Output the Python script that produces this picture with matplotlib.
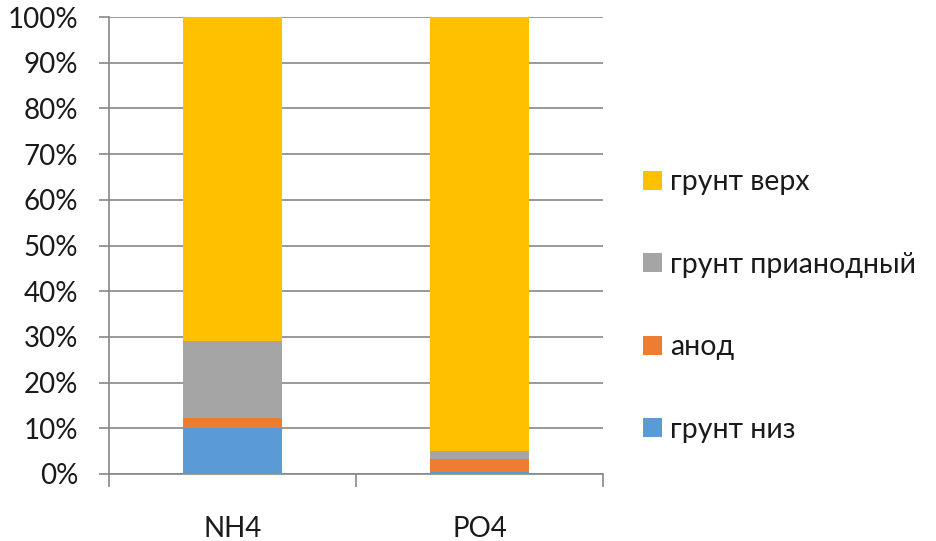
import matplotlib
matplotlib.use("Agg")
import matplotlib.pyplot as plt
from matplotlib.patches import Patch
import numpy as np

categories = ["NH4", "PO4"]
series_names = ["грунт низ", "анод", "грунт прианодный", "грунт верх"]
grunt_niz = [10.0, 0.5]
anod = [2.3, 2.8]
grunt_prianod = [16.7, 1.8]
grunt_verh = [71.0, 94.9]
colors = ["#5B9BD5", "#ED7D31", "#A5A5A5", "#FFC000"]
yticks = [0, 10, 20, 30, 40, 50, 60, 70, 80, 90, 100]

plt.rcParams['font.family'] = ['Lato', 'DejaVu Sans']

fig = plt.figure(figsize=(9.36, 5.41), dpi=100)
ax = fig.add_axes([109/936, 1-474/541, (603-109)/936, (474-17)/541])

x = np.array([0.5, 1.5])
bottom = np.zeros(2)
handles = []
for name, vals, c in zip(series_names, [grunt_niz, anod, grunt_prianod, grunt_verh], colors):
    ax.bar(x, vals, width=0.4, bottom=bottom, color=c, zorder=3)
    bottom += np.array(vals)
    handles.append(Patch(facecolor=c, label=name))

ax.set_xlim(0, 2)
ax.set_ylim(0, 100)
ax.set_yticks(yticks)
ax.set_yticklabels([f"{v}%" for v in yticks])
ax.set_xticks([0, 1, 2], minor=False)
ax.set_xticklabels(["", "", ""])
ax.set_xticks(x, minor=True)
ax.set_xticklabels(categories, minor=True)
ax.tick_params(axis='x', which='minor', length=0, pad=30, labelsize=20, labelcolor="#1a1a1a")
ax.tick_params(axis='x', which='major', length=9, width=1.2, color="#878787", direction='out')
ax.tick_params(axis='y', length=7, width=1.2, color="#878787", labelsize=20, pad=15, labelcolor="#1a1a1a")
ax.grid(axis='y', color="#878787", linewidth=1.2, zorder=0)
for s in ["top", "right"]:
    ax.spines[s].set_visible(False)
for s in ["left", "bottom"]:
    ax.spines[s].set_color("#878787")
    ax.spines[s].set_linewidth(1.2)

leg = fig.legend(handles=handles[::-1], loc="upper left", bbox_to_anchor=(632/936, 1-158/541),
                 frameon=False, fontsize=20.5, handlelength=0.65, handleheight=0.65,
                 handletextpad=0.3, labelspacing=1.98, borderaxespad=0, borderpad=0.4)
for t in leg.get_texts():
    t.set_color("#1a1a1a")

fig.savefig("out.png", dpi=100)
